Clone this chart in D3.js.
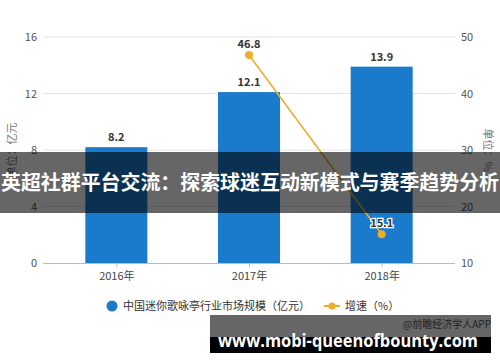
<!DOCTYPE html>
<html><head><meta charset="utf-8">
<script src="https://cdn.jsdelivr.net/npm/d3@7"></script>
<style>body{margin:0;background:#fff;}svg{display:block;font-family:"Noto Sans CJK SC","Noto Sans",sans-serif;}</style>
</head><body>
<script>
const categories = ["2016年", "2017年", "2018年"];
const marketSize = [8.2, 12.1, 13.9];
const growthCats = ["2017年", "2018年"];
const growthRate = [46.8, 15.1];
const leftTicks = [0, 4, 8, 12, 16];
const rightTicks = [10, 20, 30, 40, 50];
const seriesNames = ["中国迷你歌咏亭行业市场规模（亿元）", "增速（%）"];
const titleText = "英超社群平台交流：探索球迷互动新模式与赛季趋势分析";

const W = 500, H = 362;
const svg = d3.select("body").append("svg").attr("width", W).attr("height", H);

const x = d3.scalePoint().domain(categories).range([50, 448]).padding(0.5);
const yL = d3.scaleLinear().domain([0, 16]).range([263, 37]);
const yR = d3.scaleLinear().domain([10, 50]).range([263, 37]);
const barW = 62;
const blue = "#1a7acb", orange = "#ecac2e";

// gridlines
svg.append("g").selectAll("line").data(leftTicks.slice(1)).join("line")
  .attr("x1", 43).attr("x2", 455).attr("y1", d => yL(d)).attr("y2", d => yL(d))
  .attr("stroke", "#e3e3e3").attr("stroke-width", 1);

// left axis
const gl = svg.append("g").attr("transform", "translate(43,0)")
  .call(d3.axisLeft(yL).tickValues(leftTicks).tickSize(0).tickPadding(6));
gl.select(".domain").remove();
gl.selectAll("text").attr("fill", "#555").style("font-size", "11px").style("font-family", "'Noto Sans CJK SC',sans-serif");

// right axis
const gr = svg.append("g").attr("transform", "translate(455,0)")
  .call(d3.axisRight(yR).tickValues(rightTicks).tickSize(0).tickPadding(6));
gr.select(".domain").remove();
gr.selectAll("text").attr("fill", "#555").style("font-size", "11px").style("font-family", "'Noto Sans CJK SC',sans-serif");

// bars
svg.append("g").selectAll("rect").data(marketSize).join("rect")
  .attr("x", (d, i) => x(categories[i]) - barW / 2).attr("width", barW)
  .attr("y", d => yL(d)).attr("height", d => yL(0) - yL(d))
  .attr("fill", blue);

// x axis
const gx = svg.append("g").attr("transform", `translate(0,${yL(0)})`)
  .call(d3.axisBottom(x).tickSize(4).tickPadding(5));
gx.select(".domain").attr("d", "M43,0.5H455").attr("stroke", "#bbb");
gx.selectAll(".tick line").attr("stroke", "#bbb");
gx.selectAll("text").attr("fill", "#444").style("font-size", "11px").style("font-family", "'Noto Sans CJK SC',sans-serif");

// bar labels
svg.append("g").selectAll("text").data(marketSize).join("text")
  .attr("x", (d, i) => x(categories[i])).attr("y", d => yL(d) - 6)
  .attr("text-anchor", "middle").attr("fill", "#333").style("font-size", "11px").style("font-weight", "bold")
  .text(d => d.toFixed(1));

// line
const line = d3.line().x((d, i) => x(growthCats[i])).y(d => yR(d));
svg.append("path").datum(growthRate).attr("d", line).attr("fill", "none").attr("stroke", orange).attr("stroke-width", 1.6);
svg.append("g").selectAll("circle").data(growthRate).join("circle")
  .attr("cx", (d, i) => x(growthCats[i])).attr("cy", d => yR(d)).attr("r", 4).attr("fill", orange);
svg.append("g").selectAll("text").data(growthRate).join("text")
  .attr("x", (d, i) => x(growthCats[i])).attr("y", d => yR(d) - 7)
  .attr("text-anchor", "middle").attr("fill", "#333").attr("stroke", "#fff").attr("stroke-width", 2.5)
  .attr("paint-order", "stroke").style("font-size", "11px").style("font-weight", "bold")
  .text(d => d.toFixed(1));

// axis titles
svg.append("text").attr("transform", "translate(16,150) rotate(-90)").attr("text-anchor", "middle")
  .attr("fill", "#777").style("font-size", "11px").text("单位：亿元");
svg.append("text").attr("transform", "translate(484,150) rotate(90)").attr("text-anchor", "middle")
  .attr("fill", "#777").style("font-size", "11px").text("单位：%");

// legend
const lg = svg.append("g").attr("transform", "translate(0,306)");
lg.append("circle").attr("cx", 112).attr("cy", 0).attr("r", 5.5).attr("fill", blue);
lg.append("text").attr("x", 123).attr("y", 4).attr("fill", "#333").style("font-size", "11px").text(seriesNames[0]);
lg.append("line").attr("x1", 324).attr("x2", 340).attr("y1", 0).attr("y2", 0).attr("stroke", orange).attr("stroke-width", 2);
lg.append("circle").attr("cx", 332).attr("cy", 0).attr("r", 3.5).attr("fill", orange);
lg.append("text").attr("x", 345).attr("y", 4).attr("fill", "#333").style("font-size", "11px").text(seriesNames[1]);

// overlay title band
svg.append("rect").attr("x", 0).attr("y", 152).attr("width", W).attr("height", 61).attr("fill", "rgba(0,0,0,0.6)");
svg.append("text").attr("x", 250).attr("y", 190).attr("text-anchor", "middle").attr("fill", "#fff")
  .style("font-size", "20px").style("font-weight", "bold").attr("textLength", 498).attr("lengthAdjust", "spacingAndGlyphs")
  .text(titleText);

// bottom watermark band
svg.append("rect").attr("x", 210).attr("y", 315).attr("width", 281).attr("height", 22).attr("fill", "#666");
svg.append("rect").attr("x", 210).attr("y", 337).attr("width", 281).attr("height", 16).attr("fill", "#000");
svg.append("text").attr("x", 491).attr("y", 328).attr("text-anchor", "end").attr("fill", "#222")
  .style("font-size", "10px").text("@前瞻经济学人APP");
svg.append("text").attr("x", 348).attr("y", 347).attr("text-anchor", "middle").attr("fill", "#fff")
  .style("font-size", "18px").style("font-weight", "bold").style("font-family", "'Open Sans','DejaVu Sans',sans-serif")
  .attr("textLength", 260).attr("lengthAdjust", "spacingAndGlyphs")
  .text("www.mobi-queenofbounty.com");
</script>
</body></html>
